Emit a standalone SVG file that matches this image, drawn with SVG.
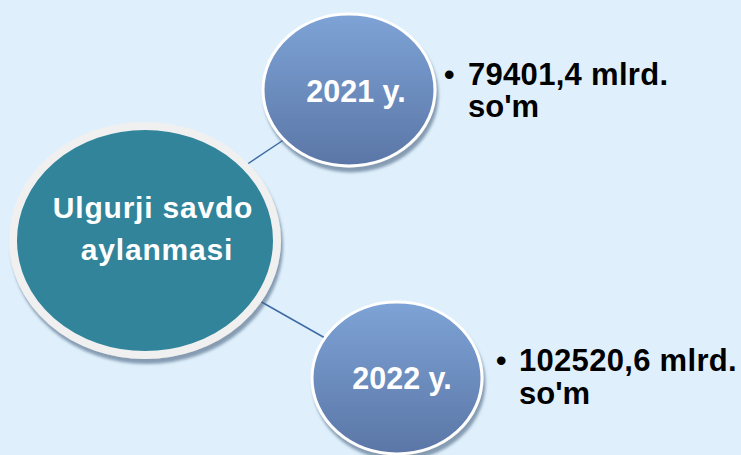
<svg xmlns="http://www.w3.org/2000/svg" width="741" height="455" viewBox="0 0 741 455">
<defs>
<linearGradient id="blueGrad" x1="0" y1="0" x2="0" y2="1">
<stop offset="0" stop-color="#7ea3d6"/>
<stop offset="1" stop-color="#5a76a6"/>
</linearGradient>
<filter id="shadow" x="-20%" y="-20%" width="140%" height="140%">
<feDropShadow dx="2" dy="5" stdDeviation="1.5" flood-color="#4a6480" flood-opacity="0.6"/>
</filter>
</defs>
<style>
.txt{font-family:"Liberation Sans",Arial,sans-serif;font-weight:bold;}
.white{fill:#ffffff;}
.black{fill:#000000;}
.conn{stroke:#3e6ba6;stroke-width:1.5;fill:none;}
</style>
<rect x="0" y="0" width="741" height="455" fill="#dff0fc"/>
<g id="connectors">
<line class="conn" x1="240" y1="169" x2="285" y2="139"/>
<line class="conn" x1="258" y1="300" x2="325" y2="338"/>
</g>
<g id="main">
<ellipse cx="145" cy="240.5" rx="132" ry="114.5" fill="#30849a" stroke="#f0f0f0" stroke-width="8" filter="url(#shadow)"/>
<text class="txt white" x="153" y="218" font-size="30" text-anchor="middle" letter-spacing="0.8">Ulgurji savdo</text>
<text class="txt white" x="157" y="260" font-size="30" text-anchor="middle" letter-spacing="0.8">aylanmasi</text>
</g>
<g id="y2021">
<ellipse cx="349" cy="90" rx="86" ry="76" fill="url(#blueGrad)" stroke="#ffffff" stroke-width="3" filter="url(#shadow)"/>
<text class="txt white" x="356" y="102" font-size="30.5" text-anchor="middle">2021 y.</text>
</g>
<g id="y2022">
<ellipse cx="397" cy="378" rx="85" ry="76" fill="url(#blueGrad)" stroke="#ffffff" stroke-width="3" filter="url(#shadow)"/>
<text class="txt white" x="402" y="389" font-size="30.5" text-anchor="middle">2022 y.</text>
</g>
<g id="val2021">
<text class="txt black" x="444" y="85" font-size="30">•</text>
<text class="txt black" x="468" y="85" font-size="31" letter-spacing="0.3">79401,4 mlrd.</text>
<text class="txt black" x="468" y="117" font-size="31">so'm</text>
</g>
<g id="val2022">
<text class="txt black" x="496" y="371" font-size="30">•</text>
<text class="txt black" x="519" y="371" font-size="31" letter-spacing="0.3">102520,6 mlrd.</text>
<text class="txt black" x="519" y="404" font-size="31">so'm</text>
</g>
</svg>
